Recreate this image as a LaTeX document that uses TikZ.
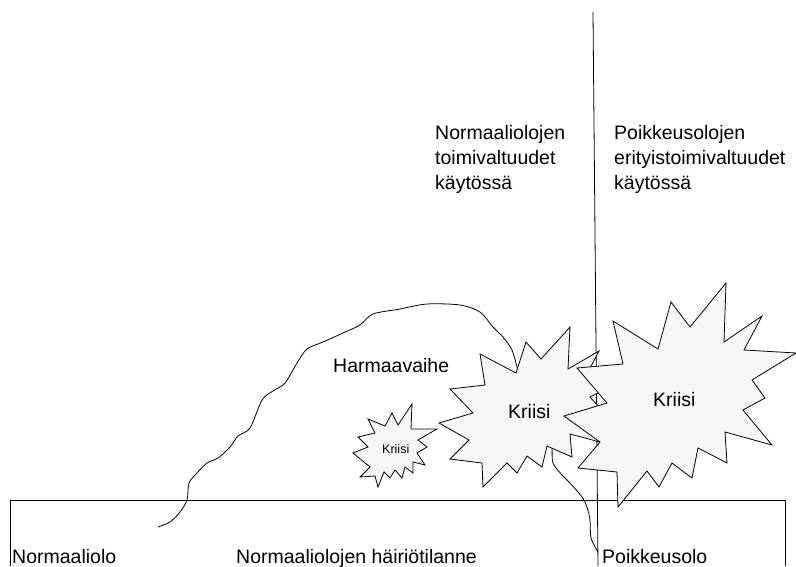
\documentclass[tikz,border=0pt]{standalone}
\usepackage{fontspec}
\setmainfont{Liberation Sans}
\usetikzlibrary{positioning}
\definecolor{krFill}{HTML}{F6F6F6}
\tikzset{
  edge/.style     = {black, line width=0.8pt, line join=miter},
  burst/.style    = {edge, fill=krFill},
  lbl/.style      = {font=\fontsize{19.5}{25}\selectfont, inner sep=0pt},
  slbl/.style     = {font=\fontsize{12.5}{15}\selectfont, inner sep=0pt},
  blocklbl/.style = {lbl, align=left, anchor=north west},
}

\begin{document}
\begin{tikzpicture}[x=1pt, y=-1pt]
  \useasboundingbox (0,0) rectangle (796,566);

  % divider between normal and exceptional conditions
  \coordinate (divtop) at (593,12);
  \coordinate (divbot) at (598,566);
  \draw[edge] (divtop) -- (divbot);

  % the grey-zone hill
  \draw[edge] plot[smooth, tension=0.5] coordinates {
    (158,527) (170,522) (180,512) (187,500) (189,483) (197,473) (207,463)
    (218,458) (230,447) (238,436) (250,428) (262,400) (273,391) (285,383)
    (297,363) (307,349) (323,342) (343,333) (360,325) (373,314) (400,309)
    (427,304) (460,305) (480,312) (493,327) (503,337) (512,350) (517,367)
    (522,385) (540,410) (550,435) (552,448) (553,463) (562,475) (570,483)
    (582,497) (587,507) (590,520) (591,538) (598,552)};

  % the frame at the bottom
  \draw[edge] (10,566) -- (10,500) -- (785,500) -- (785,566);

  % middle crisis
  \draw[burst] (526,342) -- (541,359) -- (570,327) -- (568,369) -- (599,351)
    -- (588,372) -- (620,382) -- (590,397) -- (610,419) -- (603,436)
    -- (630,450) -- (570,434) -- (572,457) -- (547,446) -- (542,467)
    -- (527,456) -- (517,473) -- (507,463) -- (483,487) -- (482,463)
    -- (450,459) -- (469,440) -- (439,423) -- (473,413) -- (450,389)
    -- (485,385) -- (480,354) -- (516,373) -- cycle;

  % small crisis
  \draw[burst] (368,419) -- (385,426) -- (392,413) -- (398,425) -- (412,404)
    -- (411,429) -- (437,429) -- (418,440) -- (427,447) -- (417,453)
    -- (425,465) -- (413,462) -- (413,473) -- (405,467) -- (402,478)
    -- (395,470) -- (390,478) -- (384,472) -- (378,487) -- (375,476)
    -- (360,477) -- (370,467) -- (353,453) -- (368,447) -- (358,437)
    -- (375,433) -- cycle;

  % right crisis
  \draw[burst] (726,283) -- (724,342) -- (762,316) -- (744,350) -- (796,353)
    -- (752,380) -- (765,398) -- (743,410) -- (772,445) -- (725,432)
    -- (727,463) -- (698,448) -- (692,478) -- (672,463) -- (659,487)
    -- (647,471) -- (618,507) -- (617,472) -- (578,468) -- (600,442)
    -- (564,416) -- (607,403) -- (577,368) -- (623,364) -- (613,321)
    -- (658,349) -- (671,302) -- (690,327) -- cycle;

  % labels
  \node[blocklbl] (normpow) at (435,125) {Normaaliolojen\\toimivaltuudet\\käytössä};
  \node[blocklbl] (excpow) at (614,125) {Poikkeusolojen\\erityistoimivaltuudet\\käytössä};
  \node[lbl, anchor=base west] (grey) at (333,372) {Harmaavaihe};
  \node[lbl, anchor=base west] (krmid) at (508,418) {Kriisi};
  \node[lbl, anchor=base west] (krright) at (653,406) {Kriisi};
  \node[slbl, anchor=base west] (krsmall) at (382,453) {Kriisi};
  \node[lbl, anchor=base west] (normal) at (12,563) {Normaaliolo};
  \node[lbl, anchor=base west] (disturb) at (236,563) {Normaaliolojen häiriötilanne};
  \node[lbl, anchor=base west] (except) at (602,563) {Poikkeusolo};
\end{tikzpicture}
\end{document}
